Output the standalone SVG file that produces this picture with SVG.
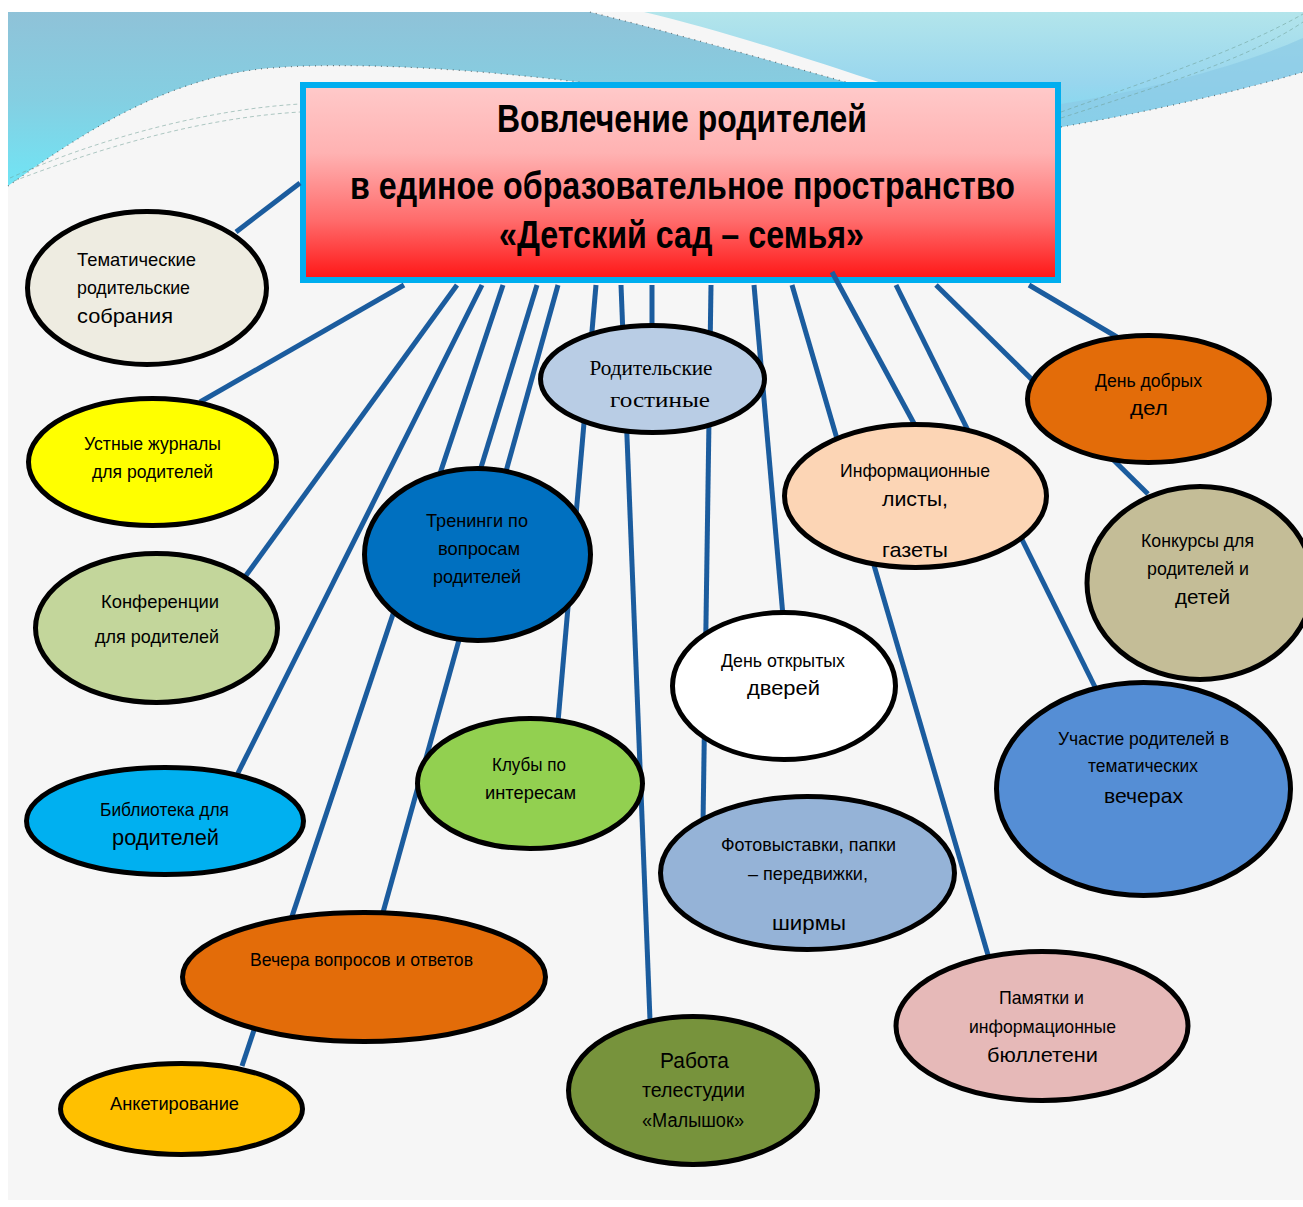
<svg xmlns="http://www.w3.org/2000/svg" width="1303" height="1207" viewBox="0 0 1303 1207">
<defs>
<linearGradient id="gTitle" x1="0" y1="0" x2="0" y2="1">
<stop offset="0" stop-color="#ffcaca"/>
<stop offset="0.35" stop-color="#ffb2b2"/>
<stop offset="0.7" stop-color="#ff6a6a"/>
<stop offset="1" stop-color="#ff1414"/>
</linearGradient>
<linearGradient id="gWaveL" gradientUnits="userSpaceOnUse" x1="0" y1="12" x2="0" y2="190">
<stop offset="0" stop-color="#8fc2d8"/>
<stop offset="0.5" stop-color="#84cfe2"/>
<stop offset="1" stop-color="#6fe6f6"/>
</linearGradient>
<linearGradient id="gWaveR" gradientUnits="userSpaceOnUse" x1="0" y1="12" x2="0" y2="130">
<stop offset="0" stop-color="#b3e5eb"/>
<stop offset="0.6" stop-color="#98d6ee"/>
<stop offset="1" stop-color="#7ddaf0"/>
</linearGradient>
<style>
.conn line{stroke:#1b5c9e;stroke-width:5;stroke-linecap:butt}
.node ellipse{stroke:#000;stroke-width:5}
.t{font-family:"Liberation Sans Narrow","Liberation Sans",Arial,sans-serif;font-size:19px;fill:#000;text-anchor:middle}
.big{font-size:21px}
.serif{font-family:"Liberation Serif","Times New Roman",serif;font-size:21px}
.title{font-family:"Liberation Sans Narrow","Liberation Sans",Arial,sans-serif;font-weight:bold;font-size:39px;fill:#000;text-anchor:middle}
.faint{fill:none;stroke:#6f9f96;stroke-width:1;stroke-dasharray:4 3;opacity:0.55}
.edge{fill:none;stroke:#222;stroke-width:1.2;stroke-dasharray:1 5;opacity:0.6}
</style>
</defs>

<g id="background">
<rect x="0" y="0" width="1303" height="1207" fill="#ffffff"/>
<rect x="8" y="12" width="1295" height="1188" fill="#f6f6f6"/>
<path d="M8,186 C60,150 150,82 260,69 C350,60 490,70 610,86 L860,86 C760,58 670,32 590,12 L8,12 Z" fill="url(#gWaveL)"/>
<path d="M644,12 L1303,12 L1303,72 C1250,88 1160,110 1061,127 L1061,86 L890,86 C800,56 720,30 644,12 Z" fill="url(#gWaveR)"/>
<path d="M1303,38 C1250,62 1160,88 1061,104 L1061,127 C1160,110 1250,88 1303,72 Z" fill="#8ccbe6" opacity="0.7"/>
<path class="edge" d="M8,186 C60,150 150,82 260,69 C350,60 490,70 610,86"/>
<path class="edge" d="M590,12 C670,32 760,58 860,86"/>
<path class="edge" d="M1061,127 C1160,110 1250,88 1303,72"/>
<path class="faint" d="M10,178 C90,142 200,110 300,104"/>
<path class="faint" d="M14,181 C100,148 200,118 300,112"/>
<path class="faint" d="M1061,112 C1150,80 1240,50 1303,14"/>
<path class="faint" d="M1061,118 C1160,86 1250,58 1303,22"/>
</g>

<g id="title">
<rect x="303" y="85" width="755" height="195" fill="url(#gTitle)" stroke="#00aeef" stroke-width="6"/>
<text class="title" x="682" y="132" textLength="370" lengthAdjust="spacingAndGlyphs">Вовлечение родителей</text>
<text class="title" x="682.5" y="199" textLength="665" lengthAdjust="spacingAndGlyphs">в единое образовательное  пространство</text>
<text class="title" x="681.5" y="248" textLength="365" lengthAdjust="spacingAndGlyphs">«Детский сад – семья»</text>
</g>

<g id="connectors" class="conn">
<line x1="300" y1="183" x2="236" y2="232"/>
<line x1="404" y1="285" x2="200" y2="402"/>
<line x1="457" y1="285" x2="242" y2="581"/>
<line x1="482" y1="285" x2="236" y2="777"/>
<line x1="503" y1="285" x2="242" y2="1066"/>
<line x1="537" y1="285" x2="479" y2="474"/>
<line x1="558" y1="285" x2="382" y2="916"/>
<line x1="596" y1="285" x2="558" y2="722"/>
<line x1="621" y1="285" x2="650" y2="1020"/>
<line x1="652" y1="285" x2="652" y2="330"/>
<line x1="711" y1="285" x2="703" y2="824"/>
<line x1="754" y1="285" x2="783" y2="616"/>
<line x1="792" y1="285" x2="988" y2="955"/>
<line x1="832" y1="272" x2="917" y2="429"/>
<line x1="896" y1="285" x2="1095" y2="687"/>
<line x1="936" y1="285" x2="1148" y2="494"/>
<line x1="1029" y1="285" x2="1122" y2="340"/>
</g>

<g id="n1" class="node">
<ellipse cx="147" cy="288" rx="119.5" ry="76.5" fill="#eeece1"/>
<text class="t" x="77" y="266" style="text-anchor:start" textLength="119" lengthAdjust="spacingAndGlyphs">Тематические</text>
<text class="t" x="77" y="294" style="text-anchor:start" textLength="113" lengthAdjust="spacingAndGlyphs">родительские</text>
<text class="t big" x="77" y="323" style="text-anchor:start" textLength="96" lengthAdjust="spacingAndGlyphs">собрания</text>
</g>

<g id="n2" class="node">
<ellipse cx="152.5" cy="462" rx="124" ry="63.5" fill="#ffff00"/>
<text class="t" x="152.5" y="450" textLength="137" lengthAdjust="spacingAndGlyphs">Устные журналы</text>
<text class="t" x="152.5" y="478" textLength="121" lengthAdjust="spacingAndGlyphs">для родителей</text>
</g>

<g id="n3" class="node">
<ellipse cx="156.5" cy="628" rx="121" ry="74.5" fill="#c3d69b"/>
<text class="t" x="160" y="608" textLength="118" lengthAdjust="spacingAndGlyphs">Конференции</text>
<text class="t" x="157" y="643" textLength="124" lengthAdjust="spacingAndGlyphs">для  родителей</text>
</g>

<g id="n4" class="node">
<ellipse cx="165" cy="821" rx="138.5" ry="53.5" fill="#00b0f0"/>
<text class="t" x="164.5" y="816" textLength="129" lengthAdjust="spacingAndGlyphs">Библиотека для</text>
<text class="t" x="165.5" y="845" style="font-size:22px" textLength="107" lengthAdjust="spacingAndGlyphs">родителей</text>
</g>

<g id="n5" class="node">
<ellipse cx="364" cy="977" rx="181.5" ry="64.5" fill="#e36c09"/>
<text class="t" x="361.5" y="966" textLength="223" lengthAdjust="spacingAndGlyphs">Вечера вопросов  и  ответов</text>
</g>

<g id="n6" class="node">
<ellipse cx="181.5" cy="1109" rx="121" ry="45.5" fill="#ffc000"/>
<text class="t" x="174.5" y="1110" textLength="129" lengthAdjust="spacingAndGlyphs">Анкетирование</text>
</g>

<g id="n7" class="node">
<ellipse cx="477.5" cy="554.5" rx="113" ry="86" fill="#0070c0"/>
<text class="t" x="477" y="527" textLength="102" lengthAdjust="spacingAndGlyphs">Тренинги по</text>
<text class="t" x="479" y="555" textLength="82" lengthAdjust="spacingAndGlyphs">вопросам</text>
<text class="t" x="477" y="583" textLength="88" lengthAdjust="spacingAndGlyphs">родителей</text>
</g>

<g id="n8" class="node">
<ellipse cx="530" cy="783.5" rx="112.5" ry="65" fill="#92d050"/>
<text class="t" x="529" y="771" textLength="74" lengthAdjust="spacingAndGlyphs">Клубы по</text>
<text class="t" x="530.5" y="799" textLength="91" lengthAdjust="spacingAndGlyphs">интересам</text>
</g>

<g id="n9" class="node">
<ellipse cx="652.5" cy="379" rx="112" ry="53.5" fill="#b9cde5"/>
<text class="t serif" x="651" y="375" textLength="123" lengthAdjust="spacingAndGlyphs">Родительские</text>
<text class="t serif" x="660" y="407" style="font-size:22px" textLength="100" lengthAdjust="spacingAndGlyphs">гостиные</text>
</g>

<g id="n10" class="node">
<ellipse cx="693" cy="1090.5" rx="124.5" ry="74" fill="#77933c"/>
<text class="t" x="694.5" y="1068" style="font-size:22px" textLength="69" lengthAdjust="spacingAndGlyphs">Работа</text>
<text class="t" x="693.5" y="1097" style="font-size:20px" textLength="103" lengthAdjust="spacingAndGlyphs">телестудии</text>
<text class="t" x="693" y="1127" style="font-size:20px" textLength="102" lengthAdjust="spacingAndGlyphs">«Малышок»</text>
</g>

<g id="n11" class="node">
<ellipse cx="807.5" cy="873" rx="147" ry="76.5" fill="#95b3d7"/>
<text class="t" x="808.5" y="851" textLength="175" lengthAdjust="spacingAndGlyphs">Фотовыставки, папки</text>
<text class="t" x="808" y="880" textLength="120" lengthAdjust="spacingAndGlyphs">– передвижки,</text>
<text class="t big" x="809" y="930" textLength="74" lengthAdjust="spacingAndGlyphs">ширмы</text>
</g>

<g id="n12" class="node">
<ellipse cx="784" cy="686" rx="111.5" ry="73.5" fill="#ffffff"/>
<text class="t" x="783" y="667" textLength="124" lengthAdjust="spacingAndGlyphs">День открытых</text>
<text class="t big" x="783.5" y="695" textLength="73" lengthAdjust="spacingAndGlyphs">дверей</text>
</g>

<g id="n13" class="node">
<ellipse cx="915.5" cy="496" rx="131" ry="71.5" fill="#fcd5b5"/>
<text class="t" x="915" y="477" textLength="150" lengthAdjust="spacingAndGlyphs">Информационные</text>
<text class="t big" x="915" y="506" textLength="66" lengthAdjust="spacingAndGlyphs">листы,</text>
<text class="t big" x="915" y="557" textLength="66" lengthAdjust="spacingAndGlyphs">газеты</text>
</g>

<g id="n14" class="node">
<ellipse cx="1148.5" cy="399" rx="121" ry="63.5" fill="#e36c09"/>
<text class="t" x="1148.5" y="387" textLength="107" lengthAdjust="spacingAndGlyphs">День добрых</text>
<text class="t big" x="1149" y="415" textLength="38" lengthAdjust="spacingAndGlyphs">дел</text>
</g>

<g id="n15" class="node">
<ellipse cx="1200" cy="583" rx="113" ry="96.5" fill="#c4bd97"/>
<text class="t" x="1197.5" y="547" textLength="113" lengthAdjust="spacingAndGlyphs">Конкурсы для</text>
<text class="t" x="1198" y="575" textLength="102" lengthAdjust="spacingAndGlyphs">родителей и</text>
<text class="t big" x="1202.5" y="604" textLength="55" lengthAdjust="spacingAndGlyphs">детей</text>
</g>

<g id="n16" class="node">
<ellipse cx="1143.5" cy="789" rx="147" ry="106.5" fill="#558ed5"/>
<text class="t" x="1143.5" y="745" textLength="171" lengthAdjust="spacingAndGlyphs">Участие родителей  в</text>
<text class="t" x="1143" y="772" textLength="110" lengthAdjust="spacingAndGlyphs">тематических</text>
<text class="t big" x="1143.5" y="803" textLength="79" lengthAdjust="spacingAndGlyphs">вечерах</text>
</g>

<g id="n17" class="node">
<ellipse cx="1042" cy="1026" rx="146" ry="74.5" fill="#e6b9b8"/>
<text class="t" x="1041.5" y="1004" textLength="85" lengthAdjust="spacingAndGlyphs">Памятки  и</text>
<text class="t" x="1042.5" y="1033" textLength="147" lengthAdjust="spacingAndGlyphs">информационные</text>
<text class="t big" x="1042.5" y="1062" textLength="111" lengthAdjust="spacingAndGlyphs">бюллетени</text>
</g>
</svg>
